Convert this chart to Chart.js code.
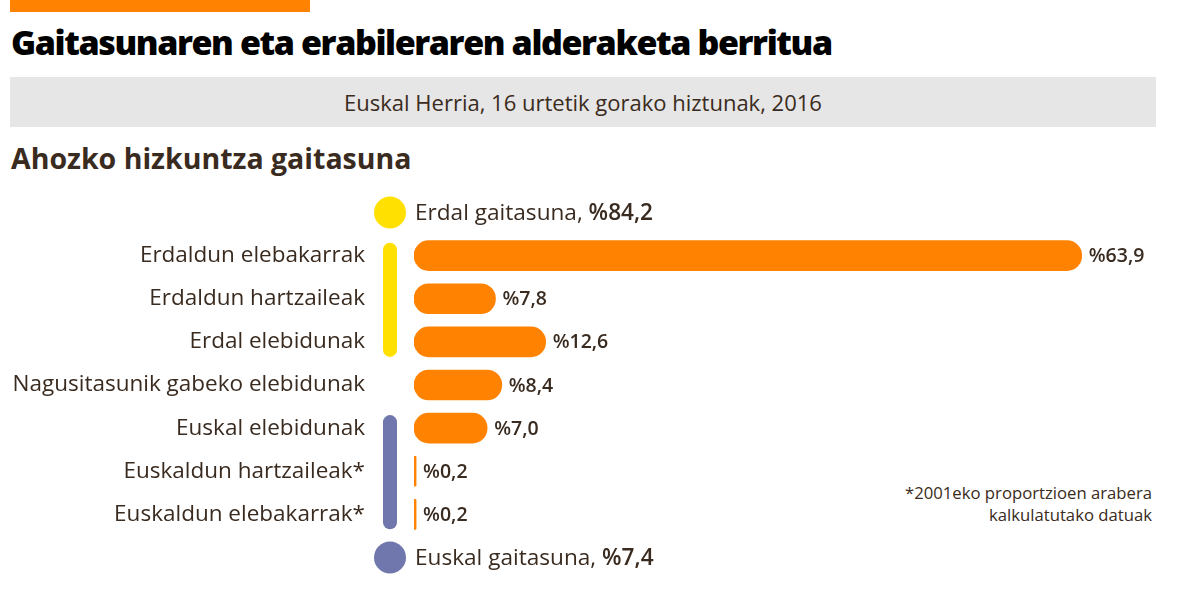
<!DOCTYPE html>
<html lang="eu">
<head>
<meta charset="UTF-8">
<title>Gaitasunaren eta erabileraren alderaketa berritua</title>
<style>
    body {
        margin: 0;
        width: 1184px;
        height: 597px;
        background: #fff;
        font-family: 'Open Sans', sans-serif;
        color: #3a2b20;
        position: relative;
        overflow: hidden;
    }
    .strip { position: absolute; left: 10px; top: 0; width: 300px; height: 12px; background: #ff8200; }
    h1 {
        position: absolute; left: 11px; top: 18px; margin: 0; line-height: 48px;
        font-size: 34px; font-weight: 800; color: #000; letter-spacing: -1.4px;
    }
    .band {
        position: absolute; left: 10px; top: 77px; width: 1146px; height: 50px;
        background: #e6e6e6; text-align: center; line-height: 50px; font-size: 22px;
    }
    h2 {
        position: absolute; left: 11px; top: 138px; margin: 0; line-height: 40px;
        font-size: 28.5px; font-weight: 700; letter-spacing: 0px;
    }
    .note {
        position: absolute; right: 32px; top: 482px; text-align: right;
        font-size: 16.7px; line-height: 22px;
    }
    #wrap { position: absolute; left: 0; top: 191px; width: 1184px; height: 388px; }
</style>
</head>
<body>
<div class="strip"></div>
<h1>Gaitasunaren eta erabileraren alderaketa berritua</h1>
<div class="band">Euskal Herria, 16 urtetik gorako hiztunak, 2016</div>
<h2>Ahozko hizkuntza gaitasuna</h2>
<div class="note">*2001eko proportzioen arabera<br>kalkulatutako datuak</div>
<div id="wrap"><canvas id="chart"></canvas></div>

<script src="https://cdn.jsdelivr.net/npm/chart.js"></script>
<script>
    // rows: first and last are the group headers (no bar)
    const categories = ['', 'Erdaldun elebakarrak', 'Erdaldun hartzaileak', 'Erdal elebidunak',
        'Nagusitasunik gabeko elebidunak', 'Euskal elebidunak', 'Euskaldun hartzaileak*',
        'Euskaldun elebakarrak*', ''];
    const values = [null, 63.9, 7.8, 12.6, 8.4, 7.0, 0.2, 0.2, null];
    const valueLabels = ['', '%63,9', '%7,8', '%12,6', '%8,4', '%7,0', '%0,2', '%0,2', ''];
    const groupNames = ['Erdal gaitasuna, ', 'Euskal gaitasuna, '];
    const groupTotals = ['%84,2', '%7,4'];
    const groupColors = ['#ffe000', '#7077ad'];
    const groupRows = [[1, 3], [5, 7]];

    const textColor = '#3a2b20';

    const extras = {
        id: 'extras',
        afterDatasetsDraw(chart) {
            const ctx = chart.ctx;
            const y = chart.scales.y;
            const area = chart.chartArea;
            const cx = area.left - 24;
            ctx.save();
            // value labels
            ctx.font = '600 19.5px "Open Sans"';
            ctx.fillStyle = textColor;
            ctx.textBaseline = 'middle';
            const meta = chart.getDatasetMeta(0);
            meta.data.forEach((bar, i) => {
                if (values[i] == null) return;
                ctx.fillText(valueLabels[i], bar.x + 7, bar.y + 1);
            });
            // brackets
            groupRows.forEach((r, g) => {
                ctx.strokeStyle = groupColors[g];
                ctx.lineWidth = 14;
                ctx.lineCap = 'round';
                ctx.beginPath();
                ctx.moveTo(cx, y.getPixelForValue(r[0]) - 13 + 7);
                ctx.lineTo(cx, y.getPixelForValue(r[1]) + 15 - 7);
                ctx.stroke();
            });
            // group header circles
            [0, categories.length - 1].forEach((row, g) => {
                const py = y.getPixelForValue(row);
                ctx.fillStyle = groupColors[g];
                ctx.beginPath();
                ctx.arc(cx, py, 16, 0, Math.PI * 2);
                ctx.fill();
                ctx.fillStyle = textColor;
                ctx.font = '400 22.6px "Open Sans"';
                ctx.fillText(groupNames[g], area.left + 1, py + 1);
                const w = ctx.measureText(groupNames[g]).width;
                ctx.font = '600 22.6px "Open Sans"';
                ctx.fillText(groupTotals[g], area.left + 1 + w, py + 1);
            });
            ctx.restore();
        }
    };

    new Chart(document.getElementById('chart'), {
        type: 'bar',
        data: {
            labels: categories,
            datasets: [{
                data: values,
                backgroundColor: '#ff8200',
                borderRadius: 15,
                borderSkipped: false,
                barThickness: 30
            }]
        },
        options: {
            indexAxis: 'y',
            responsive: true,
            maintainAspectRatio: false,
            animation: false,
            layout: { padding: { top: 0, bottom: 0, left: 0, right: 38.5 } },
            plugins: { legend: { display: false }, tooltip: { enabled: false } },
            scales: {
                x: {
                    min: 0, max: 70,
                    display: false
                },
                y: {
                    grid: { display: false, drawTicks: false },
                    border: { display: false },
                    afterFit(scale) {
                        scale.width = 414;
                        scale.paddingTop = 0;
                        scale.paddingBottom = 0;
                    },
                    ticks: {
                        padding: 49,
                        color: textColor,
                        font: { family: 'Open Sans', size: 22.5 }
                    }
                }
            }
        },
        plugins: [extras]
    });
</script>
</body>
</html>
